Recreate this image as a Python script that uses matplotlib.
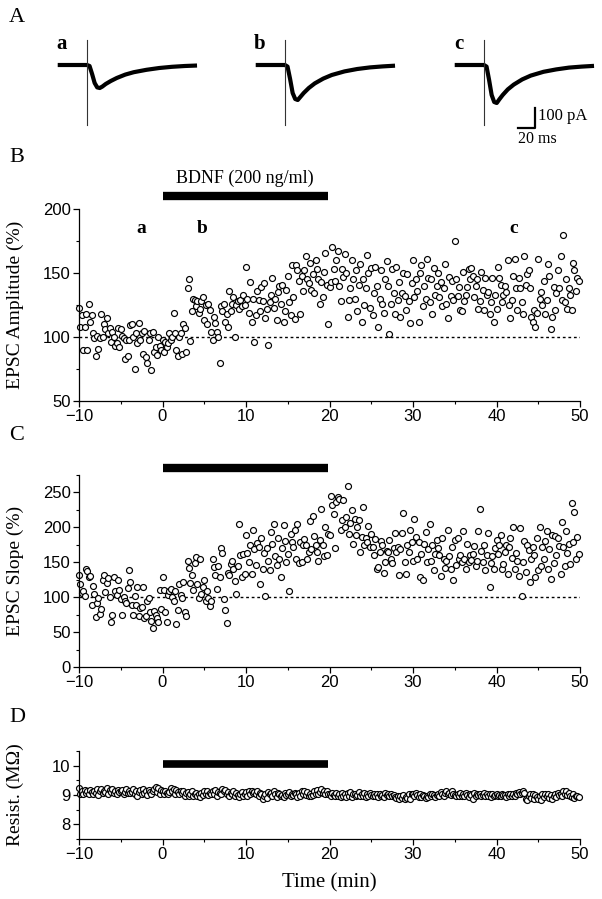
import numpy as np
import matplotlib
matplotlib.use("Agg")
import matplotlib.pyplot as plt
from matplotlib.ticker import MultipleLocator

SERIF = "Liberation Serif"
SANS = "Liberation Sans"

# ---- panel A: example EPSC traces (time in ms, current in pA) ----
trace_t = [-32, -5, 0, 3, 6, 9, 12, 15, 18, 22, 28, 35, 45, 55, 70, 85, 100, 115, 127]
trace_a = [0, 0, 0, -5, -45, -90, -112, -115, -108, -95, -80, -65, -48, -36, -24, -15, -9, -5, -3]
trace_b = [0, 0, 0, -8, -70, -140, -170, -175, -160, -140, -115, -92, -68, -50, -32, -20, -12, -7, -4]
trace_c = [0, 0, 0, -8, -75, -150, -185, -190, -172, -150, -122, -98, -72, -53, -34, -22, -13, -8, -5]
trace_names = ["a", "b", "c"]

# ---- panel B: EPSC amplitude (%), 6 samples per minute from -10 min ----
amp = [
    123, 108, 117, 90, 108, 118,   90, 126, 112, 117, 103, 99,
    85, 101, 91, 99, 118, 100,     110, 106, 115, 103, 107, 96,
    104, 100, 93, 95, 107, 92,     106, 101, 99, 83, 98, 85,
    98, 109, 110, 100, 75, 103,    95, 111, 98, 103, 87, 105,
    84, 80, 98, 103, 74, 104,      88, 92, 86, 100, 93, 90,
    98, 88, 96, 92, 95, 103,       98, 100, 119, 103, 90, 85,
    100, 103, 87, 110, 107, 88,    138, 145, 97, 120, 130, 129,
    124, 128, 119, 122, 128, 131,  113, 125, 110, 126, 121, 104,
    98, 116, 111, 104, 100, 80,    124, 120, 126, 112, 118, 108,
    136, 120, 126, 131, 100, 125,  128, 122, 129, 124, 133, 125,
    155, 130, 119, 143, 112, 130,  96, 117, 136, 129, 120, 139,
    128, 142, 115, 122, 94, 127,   133, 146, 123, 130, 113, 135,
    140, 126, 141, 112, 120, 137,  148, 127, 117, 156, 131, 114,
    156, 152, 144, 118, 148, 136,  152, 163, 145, 142, 158, 137,
    149, 134, 160, 153, 145, 126,  143, 131, 151, 166, 141, 110,
    139, 143, 170, 153, 144, 160,  167, 140, 128, 153, 147, 165,
    150, 116, 129, 138, 160, 145,  130, 152, 120, 141, 157, 112,
    145, 125, 138, 164, 150, 123,  154, 117, 134, 155, 140, 108,
    130, 152, 126, 119, 145, 159,  140, 102, 126, 153, 134, 118,
    155, 129, 143, 116, 134, 150,  132, 121, 149, 128, 111, 142,
    160, 131, 145, 136, 112, 150,  156, 124, 140, 130, 161, 146,
    127, 145, 118, 154, 133, 140,  150, 131, 143, 124, 138, 157,
    126, 115, 147, 132, 144, 129,  175, 145, 132, 139, 121, 120,
    151, 128, 133, 139, 153, 145,  154, 148, 131, 140, 145, 122,
    128, 151, 137, 121, 146, 133,  135, 118, 127, 146, 112, 133,
    122, 155, 146, 141, 127, 133,  140, 135, 160, 125, 115, 129,
    148, 161, 138, 121, 146, 138,  127, 118, 163, 141, 149, 152,
    138, 116, 112, 121, 108, 119,  161, 130, 135, 125, 144, 118,
    129, 157, 148, 106, 116, 139,  121, 134, 152, 138, 163, 129,
    180, 127, 145, 122, 138, 133,  121, 158, 152, 136, 146, 144,
]

# ---- panel C: EPSC slope (%) ----
slope = [
    132, 118, 106, 108, 102, 140,  137, 128, 130, 88, 116, 104,
    72, 91, 98, 76, 83, 125,       131, 107, 120, 127, 100, 65,
    74, 128, 109, 103, 124, 110,   97, 75, 100, 95, 91, 113,
    139, 122, 88, 75, 102, 89,     115, 73, 84, 86, 115, 70,
    73, 95, 99, 78, 66, 56,        80, 74, 70, 64, 110, 83,
    128, 110, 78, 65, 103, 108,    112, 100, 95, 108, 61, 82,
    119, 103, 99, 122, 79, 73,     152, 142, 120, 131, 110, 149,
    157, 119, 98, 155, 105, 115,   125, 95, 108, 99, 87, 94,
    154, 143, 131, 112, 145, 128,  170, 163, 97, 81, 63, 135,
    132, 147, 152, 140, 123, 105,  145, 205, 160, 128, 162, 133,
    188, 163, 150, 174, 133, 196,  168, 146, 177, 172, 119, 185,
    140, 163, 102, 170, 152, 138,  193, 176, 205, 158, 146, 185,
    155, 128, 170, 203, 180, 150,  162, 108, 190, 178, 172, 196,
    154, 204, 148, 178, 150, 174,  183, 175, 155, 164, 209, 168,
    216, 187, 175, 165, 152, 181,  226, 175, 158, 200, 160, 190,
    188, 245, 232, 218, 170, 236,  243, 240, 196, 210, 238, 200,
    215, 258, 190, 206, 225, 176,  212, 188, 200, 210, 165, 186,
    228, 175, 184, 178, 202, 171,  190, 172, 160, 183, 140, 143,
    165, 180, 175, 135, 150, 166,  165, 181, 154, 148, 170, 192,
    165, 172, 132, 168, 192, 220,  150, 133, 175, 164, 196, 178,
    152, 212, 186, 155, 178, 128,  162, 125, 176, 193, 150, 168,
    205, 152, 175, 138, 162, 182,  170, 160, 130, 185, 155, 142,
    152, 196, 159, 140, 172, 125,  182, 146, 185, 155, 160, 150,
    195, 155, 140, 176, 150, 160,  153, 162, 173, 145, 152, 195,
    226, 166, 150, 174, 138, 160,  192, 115, 149, 158, 140, 170,
    182, 162, 175, 188, 140, 147,  164, 175, 133, 172, 185, 156,
    200, 140, 163, 152, 130, 198,  101, 150, 180, 136, 175, 167,
    121, 155, 172, 160, 129, 185,  138, 200, 144, 171, 155, 180,
    195, 140, 168, 126, 188, 149,  187, 160, 185, 173, 133, 207,
    172, 145, 194, 163, 176, 147,  235, 178, 222, 155, 186, 162,
]

# ---- panel D: series resistance (MOhm) ----
resist = [
    9.24, 9.05, 9.15, 9.02, 9.18, 9.08,  9.12, 9.03, 9.17, 9.10, 9.05, 9.14,
    9.08, 9.20, 9.01, 9.12, 9.22, 9.06,  9.15, 9.09, 9.24, 9.04, 9.18, 9.10,
    9.21, 9.07, 9.13, 9.02, 9.16, 9.09,  9.12, 9.18, 9.05, 9.10, 9.22, 9.08,
    9.14, 9.06, 9.11, 9.20, 9.03, 9.12,  8.98, 9.10, 9.16, 9.04, 9.21, 9.08,
    9.13, 9.00, 9.18, 9.09, 9.05, 9.15,  9.22, 9.28, 9.10, 9.25, 9.05, 9.18,
    9.12, 9.03, 9.15, 9.08, 9.02, 9.10,  9.25, 9.14, 9.20, 9.05, 9.16, 9.09,
    9.02, 9.13, 9.07, 9.15, 8.98, 9.06,  9.10, 8.95, 9.04, 9.12, 8.98, 9.05,
    9.08, 8.96, 9.02, 8.94, 9.06, 9.00,  9.12, 9.04, 9.15, 8.99, 9.08, 9.03,
    9.14, 9.02, 9.17, 8.96, 9.10, 9.06,  9.05, 9.22, 9.12, 9.18, 9.04, 9.10,
    8.98, 9.08, 9.02, 9.13, 8.95, 9.06,  9.00, 8.93, 9.05, 9.10, 8.97, 9.04,
    9.09, 8.98, 9.12, 9.02, 9.15, 9.06,  9.10, 9.03, 9.14, 8.97, 9.08, 9.02,
    8.86, 8.95, 9.02, 8.90, 9.10, 9.05,  9.06, 8.98, 9.12, 9.02, 8.94, 9.08,
    9.04, 8.95, 9.01, 8.92, 9.07, 8.99,  9.03, 9.10, 8.96, 9.05, 8.99, 9.08,
    9.02, 8.94, 9.06, 8.98, 9.12, 9.04,  9.15, 9.01, 9.10, 8.96, 9.05, 8.95,
    9.00, 9.14, 9.05, 9.18, 9.02, 9.10,  9.20, 9.08, 9.15, 9.03, 9.12, 9.05,
    9.05, 8.98, 9.08, 9.01, 8.95, 9.06,  8.96, 9.04, 8.92, 9.08, 8.98, 9.02,
    8.94, 9.06, 8.96, 9.10, 8.92, 9.03,  9.05, 8.95, 9.00, 9.09, 8.97, 9.04,
    8.98, 9.06, 8.93, 9.02, 8.96, 9.08,  9.00, 8.95, 9.05, 8.98, 9.03, 8.94,
    9.04, 8.97, 9.01, 8.93, 9.06, 8.99,  9.02, 8.95, 9.05, 8.98, 9.00, 8.92,
    8.90, 8.97, 8.86, 8.95, 8.89, 9.00,  8.86, 8.94, 8.90, 9.02, 8.88, 9.05,
    9.03, 8.96, 9.08, 9.00, 8.94, 9.05,  8.92, 9.00, 8.95, 8.90, 8.98, 8.93,
    9.02, 8.96, 9.05, 8.99, 8.94, 9.01,  9.05, 8.98, 9.10, 9.02, 8.96, 9.06,
    9.12, 9.03, 9.08, 8.99, 9.14, 9.05,  9.00, 8.95, 9.04, 8.98, 9.06, 8.96,
    9.02, 8.97, 9.08, 9.00, 8.94, 9.05,  9.01, 8.88, 9.06, 8.96, 9.02, 8.99,
    9.04, 8.95, 9.00, 9.06, 8.97, 9.03,  8.96, 9.02, 8.94, 9.05, 8.98, 9.00,
    9.03, 8.97, 9.01, 8.95, 9.04, 8.99,  9.00, 8.94, 9.03, 8.97, 9.02, 8.96,
    9.05, 8.98, 9.06, 9.02, 9.10, 9.04,  9.08, 9.12, 9.06, 8.88, 8.82, 8.96,
    9.02, 8.90, 9.04, 8.86, 9.00, 8.93,  8.88, 8.98, 8.84, 9.02, 8.92, 9.05,
    8.95, 9.04, 8.90, 9.00, 8.87, 8.98,  9.02, 8.94, 9.06, 8.99, 9.04, 8.96,
    9.12, 9.05, 9.15, 9.00, 9.08, 8.97,  8.93, 9.04, 8.90, 8.98, 8.95, 8.92,
]

bdnf_on, bdnf_off = 0, 19.8
time = -10 + np.arange(len(amp)) / 6.0

W, H = 602, 899
fig = plt.figure(figsize=(W / 100, H / 100), dpi=100)


def px_axes(left, top, right, bottom):
    return fig.add_axes([left / W, 1 - bottom / H, (right - left) / W, (bottom - top) / H])


# ---------- panel A ----------
stim_px = [87, 285, 484]
for i, (name, tr) in enumerate(zip(trace_names, [trace_a, trace_b, trace_c])):
    left = stim_px[i] - 35 * 0.85
    ax = px_axes(left, 35, left + 165 * 0.85, 131)
    ax.set_xlim(-35, 130)
    ax.set_ylim(-330, 150)
    ax.axis("off")
    ax.plot(trace_t, tr, color="black", lw=3, solid_joinstyle="round")
    ax.plot([0, 0], [125, -300], color="#333333", lw=0.8)
    fig.text((stim_px[i] - 25) / W, 1 - 44 / H, name, fontsize=15,
             family=SERIF, weight="bold", ha="center", va="center")
    if name == "c":
        ax.plot([40, 60, 60], [-315, -315, -215], color="black", lw=1.6, clip_on=False)
        ax.text(63, -255, "100 pA", fontsize=12, family=SERIF, va="center", clip_on=False)
        ax.text(40, -370, "20 ms", fontsize=11.5, family=SERIF, va="center", clip_on=False)


def style_axes(ax, ylim, ymaj, ymin):
    ax.set_xlim(-10, 50)
    ax.set_ylim(*ylim)
    for s in ["top", "right"]:
        ax.spines[s].set_visible(False)
    for s in ["left", "bottom"]:
        ax.spines[s].set_linewidth(0.9)
    ax.xaxis.set_major_locator(MultipleLocator(10))
    ax.xaxis.set_minor_locator(MultipleLocator(5))
    ax.yaxis.set_major_locator(MultipleLocator(ymaj))
    ax.yaxis.set_minor_locator(MultipleLocator(ymin))
    ax.tick_params(which="major", length=4, width=0.9, labelsize=12, pad=2)
    ax.tick_params(which="minor", length=2.5, width=0.8)
    for lab in ax.get_xticklabels() + ax.get_yticklabels():
        lab.set_family(SANS)


def scatter(ax, y):
    ax.plot(time, y, "o", ms=4.3, mfc="white", mec="black", mew=0.85, clip_on=False)


def bar(ax, y, lw):
    ax.plot([bdnf_on, bdnf_off], [y, y], color="black", lw=lw,
            solid_capstyle="butt", clip_on=False)


# ---------- panel B ----------
axB = px_axes(79, 209, 580, 401)
style_axes(axB, (50, 200), 50, 25)
axB.axhline(100, color="black", lw=1, ls=(0, (2, 2)))
scatter(axB, amp)
bar(axB, 210, 6)
axB.text((bdnf_on + bdnf_off) / 2, 224, "BDNF (200 ng/ml)", fontsize=13,
         family=SERIF, ha="center", va="center")
for lab, tx in zip(trace_names, [-2.6, 4.7, 42]):
    axB.text(tx, 185, lab, fontsize=14, family=SERIF, weight="bold", ha="center", va="center")
axB.set_ylabel("EPSC Amplitude (%)", fontsize=14, family=SERIF)
axB.yaxis.set_label_coords(-0.11, 0.5)

# ---------- panel C ----------
axC = px_axes(79, 474.5, 580, 667)
style_axes(axC, (0, 275), 50, 25)
axC.axhline(100, color="black", lw=1, ls=(0, (2, 2)))
scatter(axC, slope)
bar(axC, 284, 6)
axC.set_ylabel("EPSC Slope (%)", fontsize=14, family=SERIF)
axC.yaxis.set_label_coords(-0.11, 0.5)

# ---------- panel D ----------
axD = px_axes(79, 751, 580, 839)
style_axes(axD, (7.5, 10.5), 1, 0.5)
scatter(axD, resist)
bar(axD, 10.07, 5.5)
axD.set_ylabel("Resist. (M\u03a9)", fontsize=14, family=SERIF)
axD.yaxis.set_label_coords(-0.11, 0.5)
axD.set_xlabel("Time (min)", fontsize=15, family=SERIF, labelpad=8)

for letter, ypx in zip("ABCD", [18, 158, 435, 717]):
    fig.text(17 / W, 1 - ypx / H, letter, fontsize=16, family=SERIF, ha="center", va="center")

fig.savefig("out.png", dpi=100, facecolor="white")
